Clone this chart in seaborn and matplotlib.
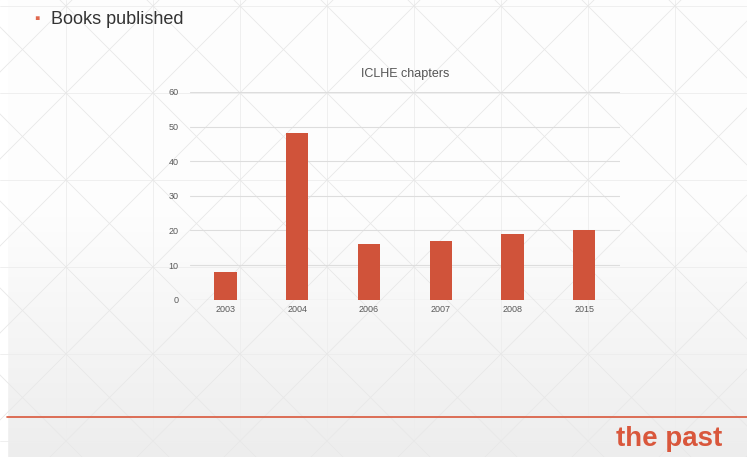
import numpy as np
import pandas as pd
import seaborn as sns
import matplotlib.pyplot as plt

years = ['2003', '2004', '2006', '2007', '2008', '2015']
chapters = [8, 48, 16, 17, 19, 20]
yticks = [0, 10, 20, 30, 40, 50, 60]

df = pd.DataFrame({'year': years, 'chapters': chapters})

sns.set_style('white')
plt.rcParams['font.family'] = ['Liberation Sans', 'DejaVu Sans']

W, H = 747, 457
fig = plt.figure(figsize=(7.47, 4.57), dpi=100)

# slide background: white on top fading to light grey, with a faint X grid
bg = fig.add_axes([0, 0, 1, 1], zorder=0)
t = np.linspace(0, 1, 200)
shade = 0.995 - 0.065 * np.clip((0.55 - t) / 0.55, 0, 1)
img = np.repeat(shade[:, None, None], 3, axis=2)
bg.imshow(img, aspect='auto', extent=[0, W, H, 0], origin='lower')
cell = 87
for k in range(-8, 12):
    x0 = 66 + cell * k
    bg.plot([x0, x0], [0, H], color='#ededed', lw=0.6)
    y0 = 93 + cell * k
    bg.plot([0, W], [y0, y0], color='#ededed', lw=0.6)
for k in range(-10, 20):
    c = 66 - 93 + cell * k
    bg.plot([c, c + 1000], [0, 1000], color='#e8e8e8', lw=0.6)
    c2 = 66 + 93 + cell * k
    bg.plot([c2, c2 - 1000], [0, 1000], color='#e8e8e8', lw=0.6)
bg.axvspan(0, 7, color='white')
bg.plot([7, W], [417, 417], color='#d9573c', lw=1.2)
bg.set_xlim(0, W)
bg.set_ylim(H, 0)
bg.axis('off')

fig.text(0.049, 0.958, '▪', color='#e0684e', fontsize=11, va='center', ha='center')
fig.text(0.068, 0.958, 'Books published', color='#333333', fontsize=13, va='center')
fig.text(0.967, 0.012, 'the past', color='#d9573c', fontsize=20, fontweight='bold',
         ha='right', va='bottom')

ax = fig.add_axes([0.254, 0.344, 0.576, 0.455], zorder=1)
ax.patch.set_alpha(0)
sns.barplot(data=df, x='year', y='chapters', color='#d0533a', width=0.31,
            saturation=1, linewidth=0, ax=ax, zorder=3)
ax.set_xlim(-0.5, 5.5)
ax.set_ylim(0, 60)
ax.set_yticks(yticks)
ax.yaxis.grid(True, color='#dddddd', lw=0.8, zorder=0)
ax.set_axisbelow(True)
for s in ax.spines.values():
    s.set_visible(False)
ax.axhline(0, color='#d6d6d6', lw=0.8, zorder=2)
ax.tick_params(axis='both', length=0, labelsize=6.5, labelcolor='#5a5a5a', pad=4)
ax.tick_params(axis='y', pad=8)
ax.set_xlabel('')
ax.set_ylabel('')
ax.set_title('ICLHE chapters', fontsize=9, color='#555555', pad=11)

plt.savefig('out.png', dpi=100)
